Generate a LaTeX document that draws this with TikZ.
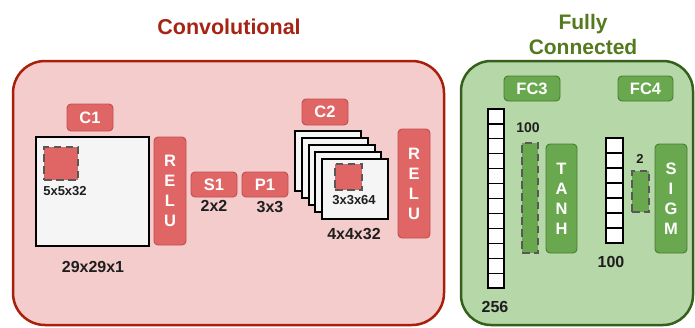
\documentclass[tikz,border=0pt]{standalone}
\usepackage{fontspec}
\setmainfont{Liberation Sans}
\definecolor{redbg}{RGB}{244,204,204}
\definecolor{redline}{RGB}{168,32,10}
\definecolor{redfill}{RGB}{224,102,102}
\definecolor{redbord}{RGB}{192,78,78}
\definecolor{greenbg}{RGB}{182,215,168}
\definecolor{greenline}{RGB}{52,96,28}
\definecolor{greenfill}{RGB}{106,168,79}
\definecolor{greenbord}{RGB}{72,122,50}
\definecolor{paper}{RGB}{245,245,245}
\definecolor{dashgray}{RGB}{88,88,88}
\definecolor{labeltxt}{RGB}{30,30,30}
\definecolor{convtxt}{RGB}{166,36,20}
\definecolor{fctxt}{RGB}{84,122,30}
\tikzset{
  tagbox/.style={rectangle, rounded corners=4pt, inner sep=0pt, line width=0.9pt,
    text=white, font=\bfseries\fontsize{16.5}{20}\selectfont, align=center},
  redtag/.style={tagbox, fill=redfill, draw=redbord},
  greentag/.style={tagbox, fill=greenfill, draw=greenbord},
  lbl/.style={inner sep=0pt, text=labeltxt, font=\bfseries\fontsize{16}{18}\selectfont},
  smalllbl/.style={inner sep=0pt, text=labeltxt, font=\bfseries\fontsize{13}{15}\selectfont},
  sheet/.style={rectangle, inner sep=0pt, draw=black, line width=2pt, fill=paper},
  kernel/.style={rectangle, inner sep=0pt, draw=dashgray, line width=2.4pt, dash pattern=on 7.5pt off 4.5pt},
  cell/.style={rectangle, inner sep=0pt, draw=black, line width=1.2pt, fill=white},
}
\begin{document}
\begin{tikzpicture}[x=1pt,y=-1pt]
\useasboundingbox (0,0) rectangle (695,327);
\clip (0,0) rectangle (695,327);
\fill[white] (0,0) rectangle (695,327);
% panels
\draw[redline, line width=2.5pt, fill=redbg, rounded corners=32pt] (13,61) rectangle (444,325);
\draw[greenline, line width=2.5pt, fill=greenbg, rounded corners=30pt] (461,61) rectangle (693,325);
\node[inner sep=0pt, text=convtxt, font=\bfseries\fontsize{21.5}{25}\selectfont] (convtitle) at (229,27) {Convolutional};
\node[inner sep=0pt, text=fctxt, align=center, font=\bfseries\fontsize{21}{25}\selectfont] (fctitle) at (583,34.5) {Fully\\Connected};
% convolutional part
\node[redtag, minimum width=46pt, minimum height=27pt] (c1) at (90,117.5) {C1};
\node[sheet, minimum width=113pt, minimum height=109pt] (input) at (92.5,191.5) {};
\node[kernel, fill=redfill, minimum width=34pt, minimum height=33pt] (k1) at (61,163.5) {};
\node[smalllbl] (k1lbl) at (65,191) {5x5x32};
\node[lbl] (inlbl) at (93,267) {29x29x1};
\node[redtag, minimum width=32pt, minimum height=108pt] (relu1) at (170,191) {R\\E\\L\\U};
\node[redtag, minimum width=46pt, minimum height=25pt] (s1) at (214,184.5) {S1};
\node[lbl] (s1lbl) at (214,206) {2x2};
\node[redtag, minimum width=46pt, minimum height=25pt] (p1) at (265,184.5) {P1};
\node[lbl] (p1lbl) at (270,207) {3x3};
\node[redtag, minimum width=46pt, minimum height=26pt] (c2) at (325,112) {C2};
\foreach \k in {0,...,4}{
  \node[sheet, minimum width=66pt, minimum height=60pt] (map\k) at ({328+6.75*\k},{161+7*\k}) {};
}
\node[kernel, fill=redfill, minimum width=27pt, minimum height=26pt] (k2) at (348.5,177) {};
\node[smalllbl] (k2lbl) at (354,200) {3x3x64};
\node[lbl] (maplbl) at (354,234) {4x4x32};
\node[redtag, minimum width=32pt, minimum height=109pt] (relu2) at (414,183.5) {R\\E\\L\\U};
% fully connected part
\node[greentag, minimum width=56pt, minimum height=25pt] (fc3) at (532,88.5) {FC3};
\node[greentag, minimum width=55pt, minimum height=25pt] (fc4) at (645.5,88.5) {FC4};
\foreach \i in {0,...,11}{
  \node[cell, minimum width=16pt, minimum height=14.92pt] (a\i) at (496,{109+14.92*\i+7.46}) {};
}
\node[lbl] (alb) at (495,307) {256};
\node[smalllbl, font=\bfseries\fontsize{14}{16}\selectfont] (hlbl) at (528,128) {100};
\node[kernel, fill=greenfill, minimum width=16pt, minimum height=110pt] (h3) at (530,198) {};
\node[greentag, minimum width=31pt, minimum height=109pt] (tanh) at (561.5,198.5) {T\\A\\N\\H};
\foreach \i in {0,...,6}{
  \node[cell, minimum width=17pt, minimum height=15pt] (b\i) at (614.5,{138+15*\i+7.5}) {};
}
\node[lbl] (blb) at (611,262) {100};
\node[smalllbl] (olbl) at (640,159) {2};
\node[kernel, fill=greenfill, minimum width=17pt, minimum height=41pt] (h4) at (640.5,191.5) {};
\node[greentag, minimum width=32pt, minimum height=109pt] (sigm) at (671,198.5) {S\\I\\G\\M};
\end{tikzpicture}
\end{document}
